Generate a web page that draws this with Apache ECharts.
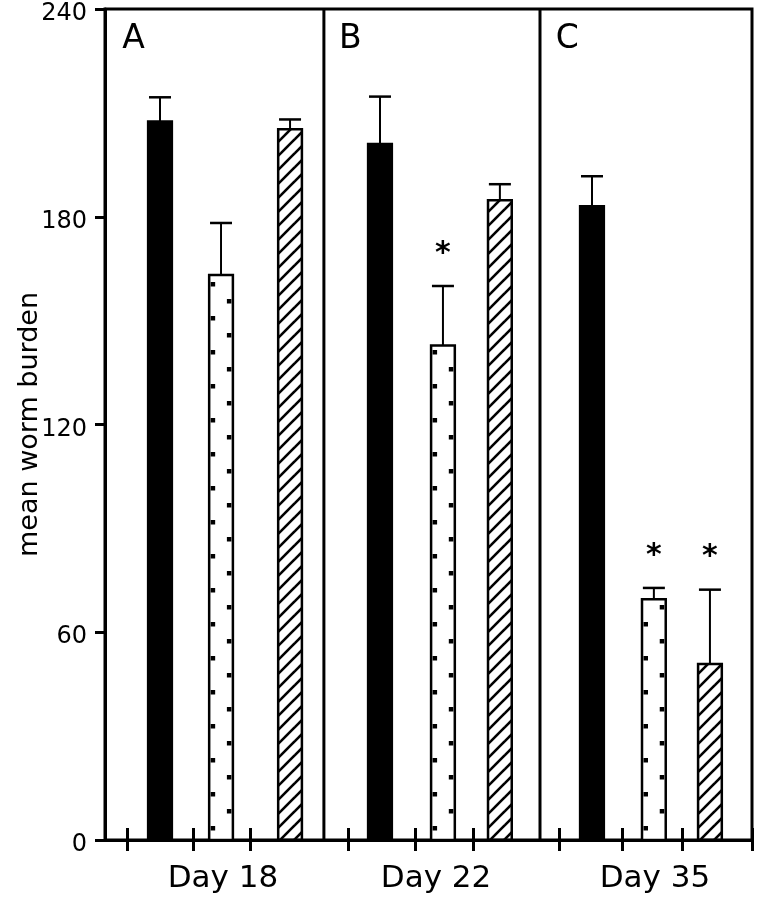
<!DOCTYPE html>
<html>
<head>
<meta charset="utf-8">
<script src="https://cdn.jsdelivr.net/npm/echarts@6/dist/echarts.min.js"></script>
<style>
html, body { margin: 0; padding: 0; background: #fff; }
#chart { width: 762px; height: 900px; }
</style>
</head>
<body>
<div id="chart"></div>
<script>
// x is measured in panels: panel A spans 0..1, B 1..2, C 2..3
var panelLetters = ['A', 'B', 'C'];
var panelLetterX = [0.08, 1.085, 2.09];
var panelEdges = [1.015, 2.017];
var dayLabels = ['Day 18', 'Day 22', 'Day 35'];
var dayLabelX = [0.547, 1.535, 2.55];
var xTicks = [0.102, 0.408, 0.672, 1.127, 1.437, 1.706, 2.105, 2.397, 2.675, 3];
var yTicks = [0, 60, 120, 180, 240];

// bar centres, one per day
var solidX = [0.255, 1.275, 2.258];
var dottedX = [0.538, 1.567, 2.545];
var hatchedX = [0.858, 1.831, 2.805];

// mean worm burden and upper error (SE)
var solidMean = [207.5, 201, 183];
var solidErr = [7, 13.7, 8.7];
var dottedMean = [163.2, 142.8, 69.5];
var dottedErr = [15, 17.2, 3.3];
var hatchedMean = [205.3, 184.8, 50.8];
var hatchedErr = [2.8, 4.6, 21.5];

// 1 = significant (*)
var solidStar = [0, 0, 0];
var dottedStar = [0, 1, 1];
var hatchedStar = [0, 0, 1];

var FONT = '"DejaVu Sans", sans-serif';
var BAR_W = 0.11;

function rows(xs, means, errs, stars) {
    return xs.map(function(x, i) {
        return [x, means[i], errs[i], stars[i]];
    });
}

// diagonal hatch tile
var hatch = document.createElement('canvas');
hatch.width = 14;
hatch.height = 14;
(function() {
    var g = hatch.getContext('2d');
    g.strokeStyle = '#000';
    g.lineWidth = 2.6;
    [[-4, 18, 18, -4], [-4, 4, 4, -4], [10, 18, 18, 10]].forEach(function(s) {
        g.beginPath();
        g.moveTo(s[0], s[1]);
        g.lineTo(s[2], s[3]);
        g.stroke();
    });
})();

function makeRender(kind) {
    return function(params, api) {
        var x = api.value(0)
        var mean = api.value(1)
        var err = api.value(2)
        var star = api.value(3)
        var base = api.coord([x, 0])
        var top = api.coord([x, mean])
        var cap = api.coord([x, mean + err])
        var w = api.size([BAR_W, 0])[0]
        var left = base[0] - w / 2
        var fill = '#fff'
        if (kind === 'solid') fill = '#000'
        if (kind === 'hatched') fill = { image: hatch, repeat: 'repeat' }
        var children = [{
            type: 'rect',
            shape: { x: left, y: top[1], width: w, height: base[1] - top[1] },
            style: { fill: fill, stroke: '#000', lineWidth: 2.5 }
        }]
        if (kind === 'dotted') {
            for (var k = 0; base[1] - 12 - 17 * k > top[1] + 6; k++) {
                var dy = base[1] - 12 - 17 * k
                var dx = k % 2 === 0 ? left + 1.5 : left + w - 6
                children.push({
                    type: 'rect',
                    shape: { x: dx, y: dy - 2, width: 4.5, height: 4.5 },
                    style: { fill: '#000' }
                })
            }
        }
        children.push({
            type: 'line',
            shape: { x1: base[0], y1: top[1], x2: base[0], y2: cap[1] },
            style: { stroke: '#000', lineWidth: 2 }
        })
        children.push({
            type: 'line',
            shape: { x1: base[0] - 11, y1: cap[1], x2: base[0] + 11, y2: cap[1] },
            style: { stroke: '#000', lineWidth: 2.5 }
        })
        if (star) {
            children.push({
                type: 'text',
                style: {
                    text: '*', x: base[0], y: cap[1] - 32,
                    font: 'bold 30px ' + FONT, align: 'center', verticalAlign: 'middle', fill: '#000'
                }
            })
        }
        return { type: 'group', children: children }
    }
}

function barSeries(name, kind, data) {
    return {
        name: name,
        type: 'custom',
        renderItem: makeRender(kind),
        encode: { x: 0, y: 1 },
        clip: false,
        silent: true,
        data: data
    }
}

var option = {
    animation: false,
    backgroundColor: '#fff',
    grid: {
        left: 105, right: 10, top: 9, bottom: 60,
        show: true, borderColor: '#000', borderWidth: 3,
        outerBoundsMode: 'none'
    },
    xAxis: [
        {
            type: 'value', min: 0, max: 3, position: 'bottom',
            axisLine: { show: true, lineStyle: { color: '#000', width: 3 } },
            axisTick: { show: true, customValues: xTicks, length: 11, lineStyle: { color: '#000', width: 3 } },
            axisLabel: {
                customValues: dayLabelX, margin: 23, fontSize: 31, fontFamily: FONT, color: '#000',
                formatter: function(v) {
                    var best = 0
                    dayLabelX.forEach(function(p, i) {
                        if (Math.abs(p - v) < Math.abs(dayLabelX[best] - v)) best = i
                    })
                    return dayLabels[best]
                }
            },
            splitLine: { show: false }
        },
        {
            type: 'value', min: 0, max: 3, position: 'bottom',
            axisLine: { show: false },
            axisTick: { show: true, inside: true, customValues: xTicks, length: 12, lineStyle: { color: '#000', width: 3 } },
            axisLabel: { show: false },
            splitLine: { show: false }
        }
    ],
    yAxis: {
        type: 'value', min: 0, max: 240,
        name: 'mean worm burden', nameLocation: 'middle', nameGap: 62, nameMoveOverlap: false,
        nameTextStyle: { fontSize: 27, fontFamily: FONT, color: '#000' },
        axisLine: { show: true, lineStyle: { color: '#000', width: 3 } },
        axisTick: { show: true, customValues: yTicks, length: 10, lineStyle: { color: '#000', width: 3 } },
        axisLabel: {
            customValues: yTicks, margin: 18, fontSize: 24, fontFamily: FONT, color: '#000',
            verticalAlign: 'top', lineHeight: 10
        },
        splitLine: { show: false }
    },
    series: [
        {
            name: 'panels',
            type: 'custom',
            silent: true,
            clip: false,
            encode: { x: 0, y: 1 },
            data: panelEdges.map(function(x) { return [x, 240] }),
            renderItem: function(params, api) {
                var a = api.coord([api.value(0), 0])
                var b = api.coord([api.value(0), 240])
                return {
                    type: 'line',
                    shape: { x1: a[0], y1: a[1], x2: b[0], y2: b[1] },
                    style: { stroke: '#000', lineWidth: 3 }
                }
            }
        },
        {
            name: 'letters',
            type: 'custom',
            silent: true,
            clip: false,
            encode: { x: 0, y: 1 },
            data: panelLetterX.map(function(x, i) { return [x, 236, i] }),
            renderItem: function(params, api) {
                var p = api.coord([api.value(0), api.value(1)])
                return {
                    type: 'text',
                    style: {
                        text: panelLetters[api.value(2)], x: p[0], y: p[1],
                        font: '33px ' + FONT, align: 'left', verticalAlign: 'top', fill: '#000'
                    }
                }
            }
        },
        barSeries('solid', 'solid', rows(solidX, solidMean, solidErr, solidStar)),
        barSeries('dotted', 'dotted', rows(dottedX, dottedMean, dottedErr, dottedStar)),
        barSeries('hatched', 'hatched', rows(hatchedX, hatchedMean, hatchedErr, hatchedStar))
    ]
}

var chart = echarts.init(document.getElementById('chart'))
chart.setOption(option)
window.addEventListener('resize', function() {
    chart.resize()
})
</script>
</body>
</html>
